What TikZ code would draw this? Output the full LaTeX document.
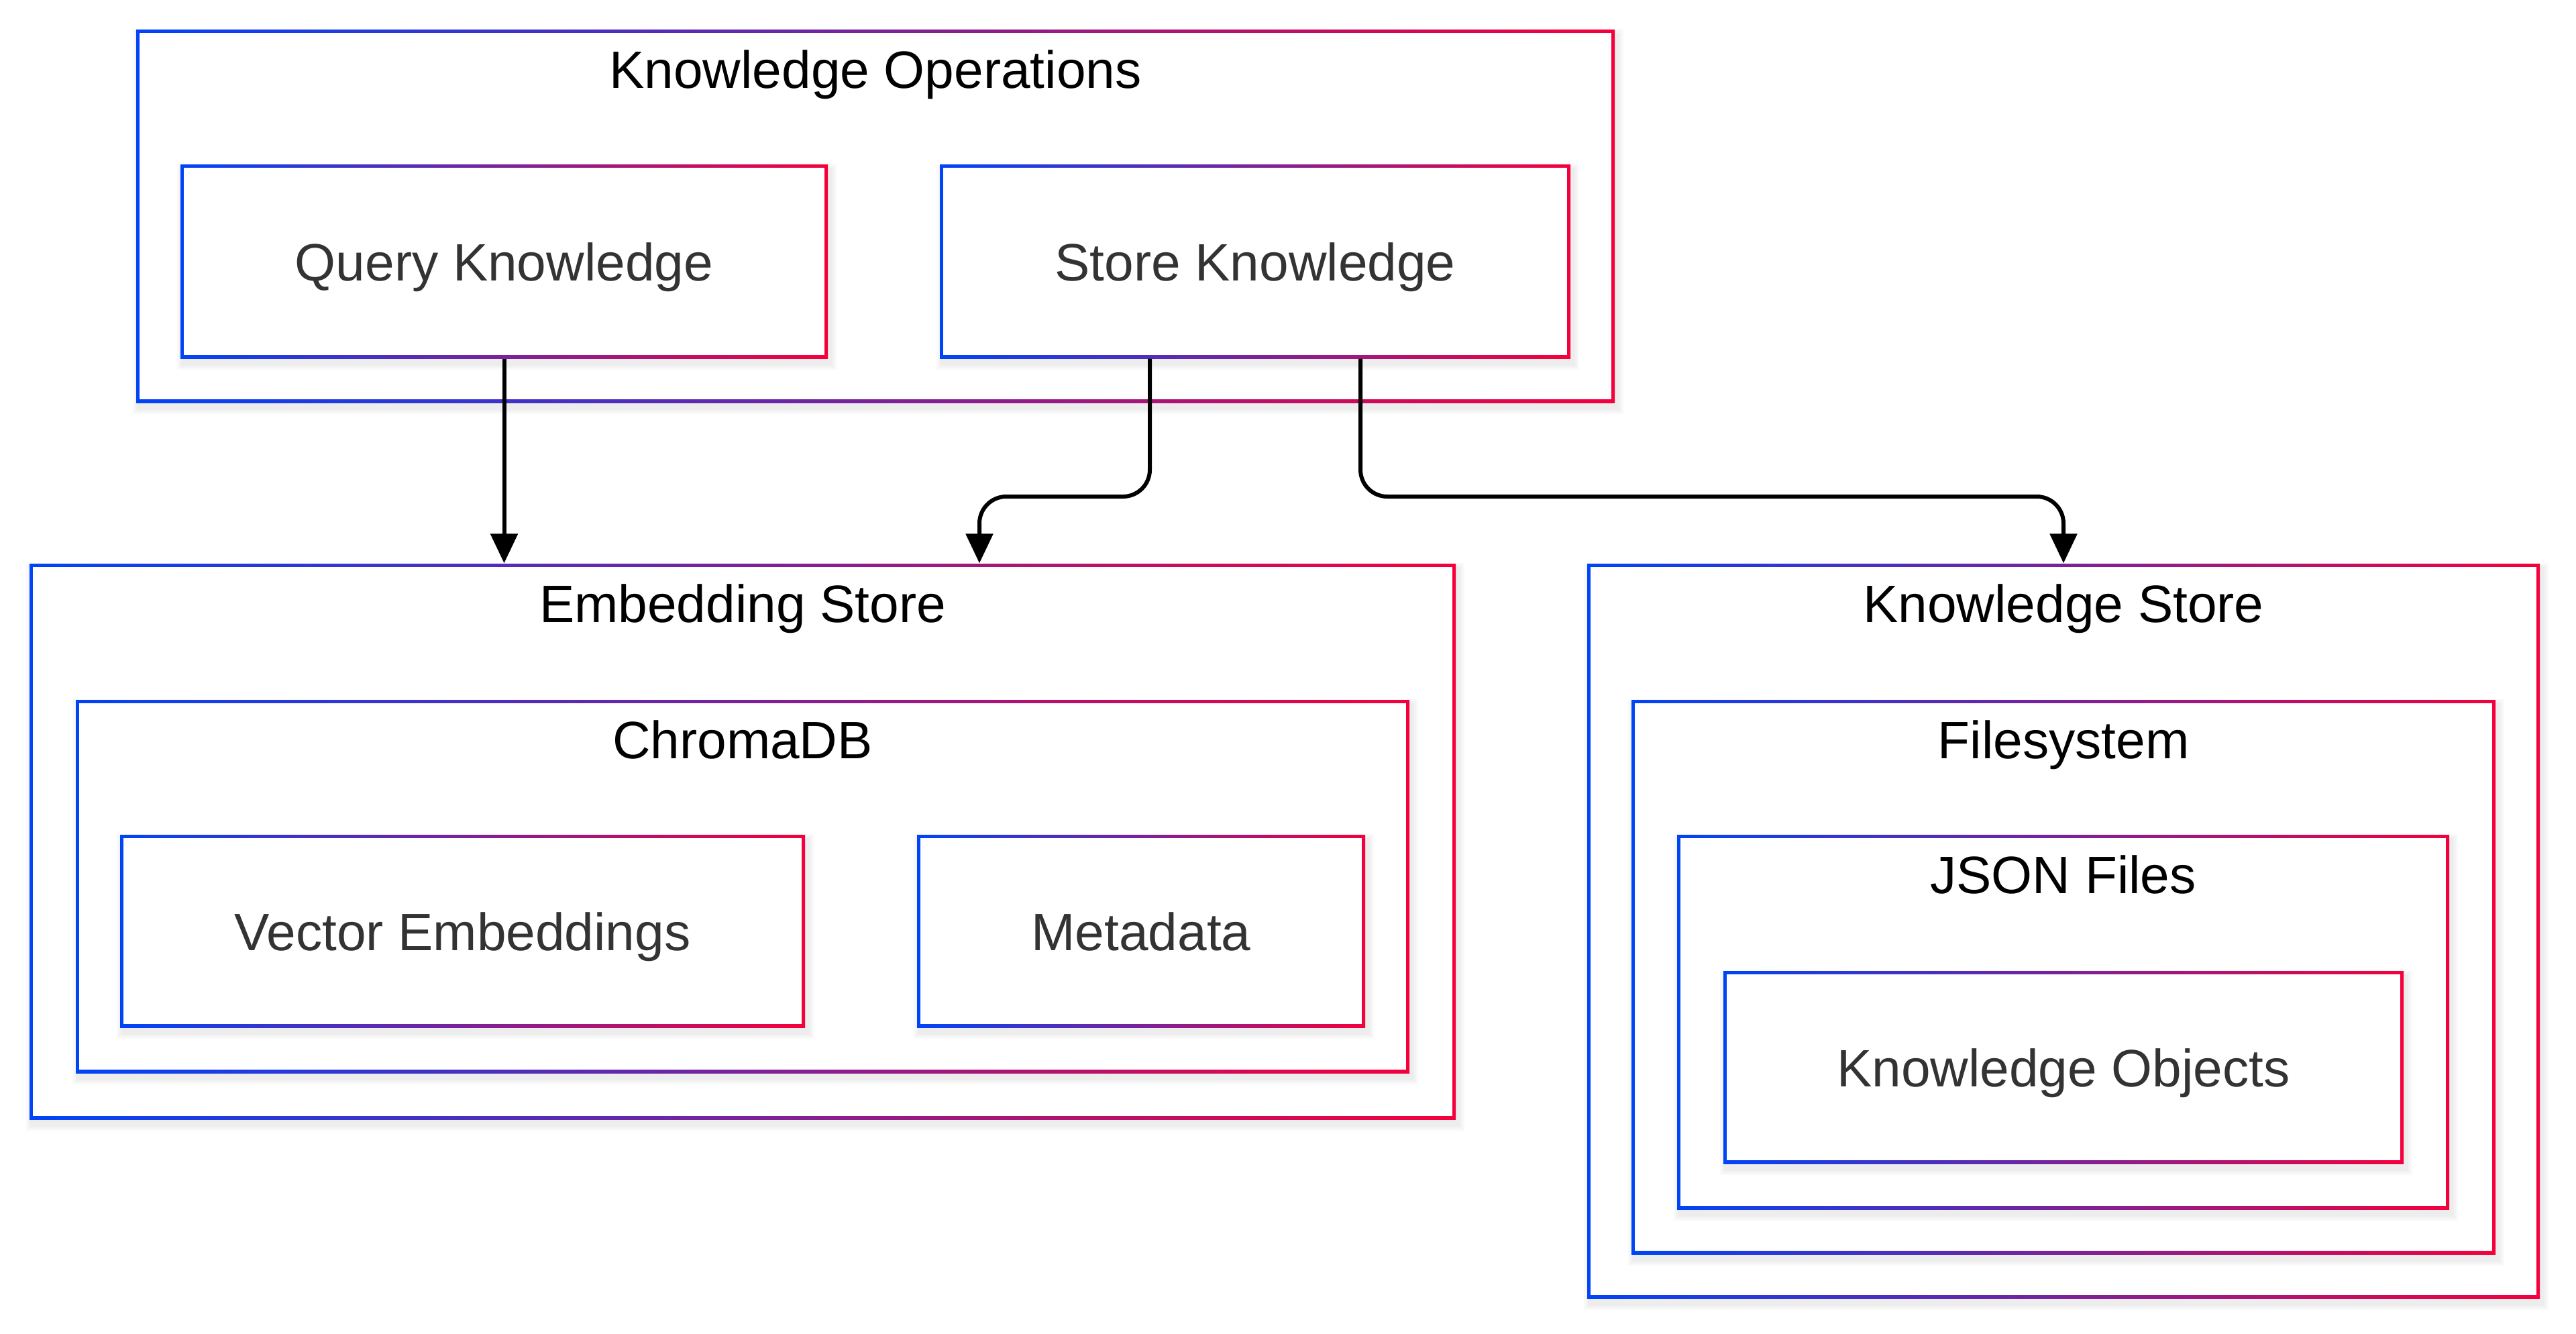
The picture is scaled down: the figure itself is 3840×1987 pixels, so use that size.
\documentclass[tikz,border=0pt]{standalone}
\usepackage{fontspec}
\setmainfont{Liberation Sans}
\usetikzlibrary{fit,arrows.meta,calc}
\definecolor{gblue}{HTML}{0044F8}
\definecolor{gred}{HTML}{F5003C}
\definecolor{txt}{HTML}{333333}
\newcommand\gbox[5]{%
  \foreach \k in {1,2,3}{\fill[black,opacity=0.025] ($(#2,#3)+(4-\k*3,8-\k*3)$) rectangle ($(#4,#5)+(4+\k*3,8+\k*3)$);}
  \shade[left color=gblue,right color=gred] (#2,#3) rectangle (#4,#5);
  \fill[white] ($(#2,#3)+(5,5)$) rectangle ($(#4,#5)+(-5,-5)$);
  \node[fit={(#2,#3)(#4,#5)},inner sep=0pt] (#1) {};
}
\tikzset{
  ctitle/.style={font=\fontsize{22.3pt}{26pt}\selectfont, text=black, inner sep=0pt, anchor=base},
  ntext/.style={font=\fontsize{22.3pt}{26pt}\selectfont, text=txt, inner sep=0pt, anchor=base},
  conn/.style={draw=black, line width=0.06cm, rounded corners=0.4cm, -{Triangle[length=0.44cm,width=0.40cm]}}
}
\begin{document}
\begin{tikzpicture}[x=0.01cm,y=-0.01cm]
\useasboundingbox (0,0) rectangle (3840,1987);
\fill[white] (0,0) rectangle (3840,1987);
% Knowledge Operations
\gbox{ko}{203}{44}{2407}{600}
\node[ctitle] (kot) at ($(ko.north)+(0,88)$) {Knowledge Operations};
\gbox{qk}{269}{245}{1234}{534}
\node[ntext] (qkt) at ($(qk.center)+(0,29)$) {Query Knowledge};
\gbox{sk}{1401}{245}{2341}{534}
\node[ntext] (skt) at ($(sk.center)+(0,29)$) {Store Knowledge};
% Embedding Store
\gbox{es}{44}{840}{2170}{1668}
\node[ctitle] (est) at ($(es.north)+(0,88)$) {Embedding Store};
\gbox{cdb}{113}{1043}{2101}{1599}
\node[ctitle] (cdbt) at ($(cdb.north)+(0,88)$) {ChromaDB};
\gbox{ve}{179}{1244}{1200}{1531}
\node[ntext] (vet) at ($(ve.center)+(0,29)$) {Vector Embeddings};
\gbox{md}{1367}{1244}{2035}{1531}
\node[ntext] (mdt) at ($(md.center)+(0,29)$) {Metadata};
% Knowledge Store
\gbox{ks}{2366}{840}{3786}{1935}
\node[ctitle] (kst) at ($(ks.north)+(0,88)$) {Knowledge Store};
\gbox{fs}{2432}{1043}{3720}{1869}
\node[ctitle] (fst) at ($(fs.north)+(0,88)$) {Filesystem};
\gbox{jf}{2500}{1244}{3651}{1802}
\node[ctitle] (jft) at ($(jf.north)+(0,88)$) {JSON Files};
\gbox{kob}{2569}{1447}{3583}{1734}
\node[ntext] (kobt) at ($(kob.center)+(0,29)$) {Knowledge Objects};
% connectors
\coordinate (j) at (0,740);
\coordinate (s1) at ($(sk.south)+(-157,0)$);
\coordinate (s2) at ($(sk.south)+(157,0)$);
\coordinate (e1) at ($(es.north)+(353,0)$);
\draw[conn] (qk.south) -- (qk.south |- es.north);
\draw[conn] (s1) -- (s1 |- j) -- (e1 |- j) -- (e1);
\draw[conn] (s2) -- (s2 |- j) -- (ks.north |- j) -- (ks.north);
\end{tikzpicture}
\end{document}
